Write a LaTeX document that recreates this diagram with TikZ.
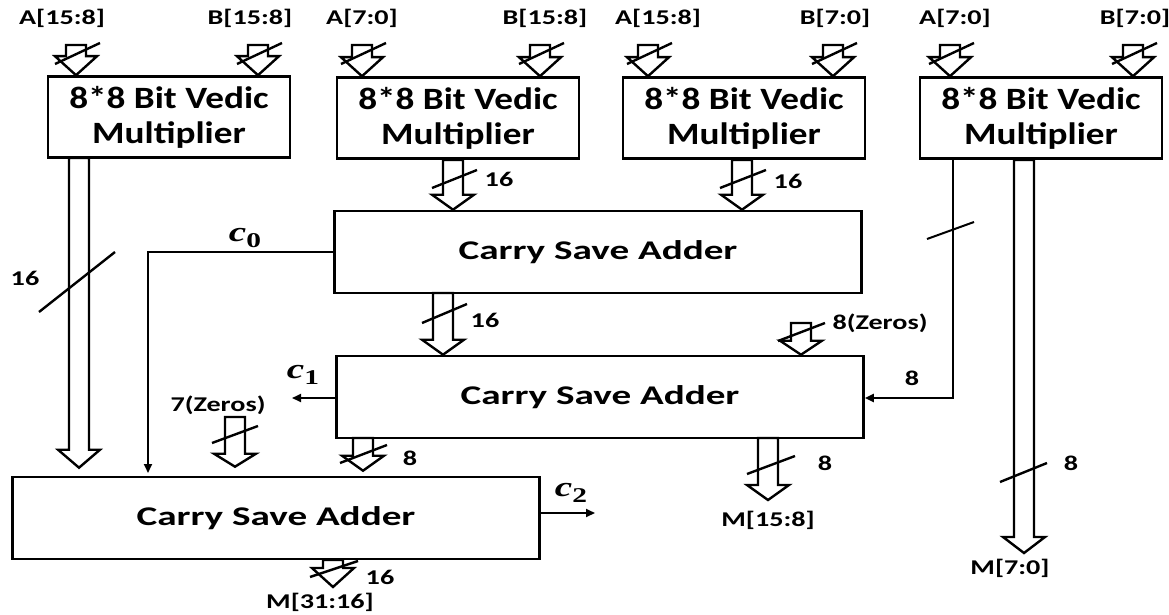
\documentclass[tikz,border=0pt]{standalone}
\usepackage{fontspec}
\usetikzlibrary{calc,arrows.meta}
\newfontfamily\lab{Carlito}[FakeStretch=1.34]
\newfontfamily\mfont{Carlito}[FakeStretch=1.2]
\newfontfamily\afont{Carlito}[FakeStretch=1.45]
\newfontfamily\cfont{Liberation Serif}[FakeStretch=1.4]
\newcommand\barrow[3][17]{%
 \draw[blk] let \p1=(#2), \p2=(#3) in
 (\x1-10pt,\y1) -- (\x1-10pt,\y2+#1pt) -- (\x1-21pt,\y2+#1pt) -- (\x1,\y2)
 -- (\x1+21pt,\y2+#1pt) -- (\x1+10pt,\y2+#1pt) -- (\x1+10pt,\y1) -- cycle;}
\newcommand\cc[1]{{\cfont\bfseries\itshape\fontsize{28}{28}\selectfont c}\raisebox{-6pt}{\cfont\bfseries\fontsize{21}{21}\selectfont #1}}
\tikzset{
 mbox/.style={draw, line width=2.6pt, inner sep=0pt, minimum width=242pt, minimum height=81pt, align=center, font=\mfont\bfseries\fontsize{31}{35}\selectfont},
 cbox/.style={draw, line width=2.6pt, inner sep=0pt, minimum width=527pt, minimum height=82pt, font=\afont\bfseries\fontsize{27}{30}\selectfont},
 lbl/.style={font=\lab\bfseries\fontsize{21}{24}\selectfont, inner sep=0pt},
 blk/.style={line width=2.4pt, line join=miter, fill=white},
 slash/.style={line width=2.4pt},
 wire/.style={line width=2pt},
 tip/.style={-{Triangle[length=9pt,width=8pt]}}
}
\begin{document}
\begin{tikzpicture}[x=1pt,y=-1pt]
\useasboundingbox[fill=white] (0,0) rectangle (1169,615);

% multipliers
\node[mbox] (m1) at (169,117) {8*8 Bit Vedic\\Multiplier};
\node[mbox] (m2) at (458,118) {8*8 Bit Vedic\\Multiplier};
\node[mbox] (m3) at (744,118) {8*8 Bit Vedic\\Multiplier};
\node[mbox] (m4) at (1041,118) {8*8 Bit Vedic\\Multiplier};
% adders
\node[cbox] (s0) at (598,252) {Carry Save Adder};
\node[cbox] (s1) at (600,397) {Carry Save Adder};
\node[cbox] (s2) at (276,518) {Carry Save Adder};

% input labels
\node[lbl] (la1) at (62,18) {A[15:8]};
\node[lbl] (lb1) at (250,18) {B[15:8]};
\node[lbl] (la2) at (362,18) {A[7:0]};
\node[lbl] (lb2) at (545,18) {B[15:8]};
\node[lbl] (la3) at (658,18) {A[15:8]};
\node[lbl] (lb3) at (835,18) {B[7:0]};
\node[lbl] (la4) at (955,18) {A[7:0]};
\node[lbl] (lb4) at (1135,18) {B[7:0]};

% input arrows
\foreach \n/\x in {ia1/76, ib1/258, ia2/362, ib2/540, ia3/648, ib3/833, ia4/950, ib4/1133}{
  \coordinate (\n) at (\x,45);
}
\barrow[19]{ia1}{ia1 |- m1.north}
\barrow[19]{ib1}{ib1 |- m1.north}
\barrow[19]{ia2}{ia2 |- m2.north}
\barrow[19]{ib2}{ib2 |- m2.north}
\barrow[19]{ia3}{ia3 |- m3.north}
\barrow[19]{ib3}{ib3 |- m3.north}
\barrow[19]{ia4}{ia4 |- m4.north}
\barrow[19]{ib4}{ib4 |- m4.north}
\foreach \x in {76,258,362,540,648,833,950,1133}{
  \draw[slash] (\x-21,64) -- (\x+24,43);
}

% multiplier outputs
\coordinate (o1) at (79,158);
\coordinate (o2) at (453,160);
\coordinate (o3) at (742,160);
\coordinate (o4) at (1024,160);
\coordinate (w4) at (953,398);
\barrow[18]{o1}{$(o1 |- s2.north)+(0,-8)$}
\draw[slash] (39,312) -- (115,252);
\node[lbl] (n16a) at (25,278) {16};
\barrow[15]{o2}{o2 |- s0.north}
\draw[slash] (432,188) -- (477,170);
\node[lbl] (n16b) at (499,179) {16};
\barrow[15]{o3}{o3 |- s0.north}
\draw[slash] (720,188) -- (766,170);
\node[lbl] (n16c) at (788,181) {16};
\barrow[16]{o4}{1024,553}
\coordinate (mo4) at (1024,553);
\draw[slash] (1000,482) -- (1047,463);
\node[lbl] (n8d) at (1071,463) {8};
\node[lbl] (M70) at (1010,568) {M[7:0]};
\draw[wire,tip] (m4.south -| w4) -- (w4) -- (s1.east |- w4);
\draw[wire] (927,239) -- (974,222);
\node[lbl] (n8e) at (912,378) {8};

% adder 0 to adder 1
\coordinate (a01) at (443,293);
\barrow[15]{a01}{a01 |- s1.north}
\draw[slash] (422,323) -- (467,304);
\node[lbl] (n16f) at (485,320) {16};
\coordinate (z8) at (801,323);
\barrow[14]{z8}{z8 |- s1.north}
\draw[slash] (778,341) -- (825,323);
\node[lbl] (zl8) at (880,323) {8(Zeros)};

% adder 1 outputs
\coordinate (a1m) at (768,438);
\barrow[15]{a1m}{768,500}
\draw[slash] (747,474) -- (795,456);
\node[lbl] (n8g) at (825,463) {8};
\node[lbl] (M158) at (768,520) {M[15:8]};
\coordinate (a12) at (363,438);
\barrow[15]{a12}{$(a12 |- s2.north)+(0,-5)$}
\draw[slash] (340,463) -- (387,445);
\node[lbl] (n8h) at (410,458) {8};
\coordinate (z7) at (235,417);
\barrow[13]{z7}{$(z7 |- s2.north)+(0,-9)$}
\draw[slash] (212,443) -- (258,426);
\node[lbl] (zl7) at (218,405) {7(Zeros)};

% adder 2 output
\coordinate (a2m) at (333,560);
\barrow[19]{a2m}{333,587}
\draw[slash] (310,577) -- (358,561);
\node[lbl] (n16i) at (380,577) {16};
\node[lbl] (M3116) at (320,602) {M[31:16]};

% carries
\coordinate (c0e) at (148,473);
\draw[wire,tip] (s0.west) -| (c0e);
\node[inner sep=0pt] (c0) at (245,238) {\cc{0}};
\coordinate (c1e) at (292,398);
\draw[wire,tip] (s1.west |- c1e) -- (c1e);
\node[inner sep=0pt] (c1) at (303,375) {\cc{1}};
\coordinate (c2e) at (595,513);
\draw[wire,tip] (s2.east |- c2e) -- (c2e);
\node[inner sep=0pt] (c2) at (571,493) {\cc{2}};
\end{tikzpicture}
\end{document}
